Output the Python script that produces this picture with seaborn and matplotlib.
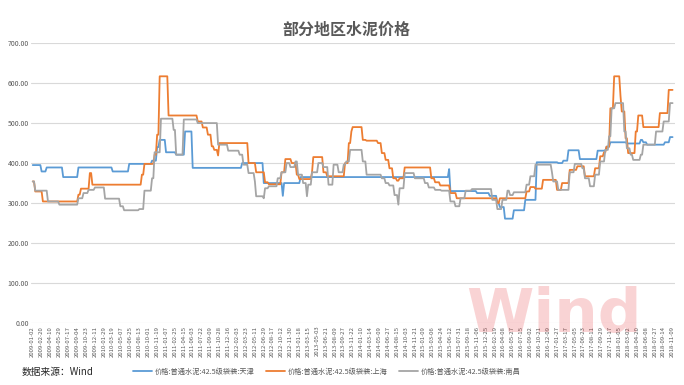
import numpy as np
import pandas as pd
import seaborn as sns
import matplotlib
matplotlib.use("Agg")
import matplotlib.pyplot as plt

# weekly observations, stored as step changes: week index where a new level starts
N_WEEKS = 505

tj_start = [0, 7, 11, 24, 36, 63, 76, 94, 98, 100, 105, 113, 120, 126, 165, 182, 197, 198, 211, 328,
            329, 350, 360, 366, 368, 372, 379, 388, 397, 414, 418, 422, 431, 445, 452, 455, 468, 479, 481, 484,
            498, 502]
tj_price = [395, 379, 389, 365, 389, 379, 398, 406, 440, 458, 427, 421, 479, 388, 400, 350, 318, 350, 365, 385,
            330, 325, 318, 300, 290, 261, 282, 308, 402, 400, 406, 432, 410, 431, 441, 452, 449, 458, 452, 446,
            452, 465]

sh_start = [0, 2, 8, 36, 38, 45, 47, 86, 88, 96, 98, 100, 107, 130, 134, 138, 141, 143, 146, 147,
            170, 176, 183, 186, 196, 199, 204, 208, 210, 220, 221, 229, 232, 246, 249, 251, 252, 260, 263, 272,
            275, 278, 281, 284, 287, 289, 293, 314, 317, 321, 329, 334, 366, 368, 389, 392, 396, 402, 413, 417,
            423, 429, 435, 443, 447, 450, 452, 455, 458, 463, 464, 467, 469, 475, 477, 481, 494, 501]
sh_price = [354, 329, 304, 321, 336, 375, 346, 371, 398, 421, 471, 617, 519, 504, 489, 471, 442, 433, 419, 450,
            400, 377, 352, 347, 377, 410, 400, 371, 360, 377, 415, 377, 367, 400, 450, 479, 490, 458, 456, 450,
            425, 408, 387, 362, 356, 362, 389, 362, 352, 344, 325, 312, 300, 312, 329, 340, 336, 358, 333, 350,
            383, 392, 367, 387, 417, 427, 441, 537, 617, 567, 529, 462, 425, 479, 519, 490, 525, 583]

nc_start = [0, 2, 12, 21, 36, 40, 44, 49, 57, 69, 72, 84, 88, 94, 96, 101, 111, 113, 119, 130,
            146, 154, 163, 166, 170, 175, 176, 182, 183, 186, 193, 196, 200, 203, 207, 209, 213, 216, 217, 220,
            225, 229, 233, 237, 241, 245, 247, 250, 260, 263, 275, 278, 281, 285, 288, 289, 293, 301, 309, 312,
            317, 322, 329, 333, 337, 341, 346, 362, 366, 370, 374, 376, 379, 389, 392, 396, 409, 410, 414, 423,
            427, 433, 435, 439, 443, 447, 451, 454, 456, 459, 466, 468, 471, 473, 479, 481, 491, 497, 502]
nc_price = [354, 331, 304, 296, 312, 325, 333, 339, 311, 292, 282, 285, 331, 362, 427, 511, 483, 421, 509, 500,
            446, 431, 421, 396, 375, 354, 317, 312, 337, 342, 362, 377, 400, 390, 404, 371, 350, 317, 346, 377,
            400, 390, 346, 396, 377, 396, 404, 433, 404, 371, 362, 350, 344, 320, 296, 337, 375, 362, 350, 339,
            333, 331, 304, 292, 312, 331, 335, 308, 285, 308, 331, 320, 327, 346, 367, 396, 377, 354, 333, 377,
            398, 387, 362, 342, 371, 404, 433, 467, 537, 550, 479, 437, 421, 408, 421, 446, 479, 504, 550]

tick_labels = [
    "2009-01-02", "2009-02-20", "2009-04-10", "2009-05-29", "2009-07-17", "2009-09-04", "2009-10-23", "2009-12-11",
    "2010-01-29", "2010-03-19", "2010-05-07", "2010-06-25", "2010-08-13", "2010-10-01", "2010-11-19",
    "2011-01-07", "2011-02-25", "2011-04-15", "2011-06-03", "2011-07-22", "2011-09-09", "2011-10-28", "2011-12-16",
    "2012-02-03", "2012-03-23", "2012-05-11", "2012-06-29", "2012-08-17", "2012-10-12", "2012-11-30",
    "2013-01-18", "2013-03-15", "2013-05-03", "2013-06-21", "2013-08-09", "2013-09-27", "2013-11-22",
    "2014-01-10", "2014-03-14", "2014-05-09", "2014-06-27", "2014-08-15", "2014-10-03", "2014-11-21",
    "2015-01-09", "2015-03-06", "2015-04-24", "2015-06-12", "2015-07-31", "2015-09-18", "2015-11-06", "2015-12-25",
    "2016-02-19", "2016-04-08", "2016-05-27", "2016-07-15", "2016-09-02", "2016-10-21", "2016-12-09",
    "2017-01-27", "2017-03-17", "2017-05-05", "2017-06-23", "2017-08-11", "2017-09-29", "2017-11-17",
    "2018-01-05", "2018-03-02", "2018-04-20", "2018-06-08", "2018-07-27", "2018-09-14", "2018-11-09",
]

names = ["价格:普通水泥:42.5级袋装:天津", "价格:普通水泥:42.5级袋装:上海", "价格:普通水泥:42.5级袋装:南昌"]
colors = ["#5B9BD5", "#ED7D31", "#A5A5A5"]


def weekly(starts, levels):
    lengths = np.diff(starts + [N_WEEKS])
    return np.repeat(levels, lengths)


frames = []
for name, st, lv in zip(names, [tj_start, sh_start, nc_start], [tj_price, sh_price, nc_price]):
    frames.append(pd.DataFrame({"week": np.arange(N_WEEKS), "price": weekly(st, lv), "series": name}))
df = pd.concat(frames, ignore_index=True)

sns.set_style("white")
plt.rcParams['font.family'] = ['Noto Sans CJK SC', 'DejaVu Sans']

fig = plt.figure(figsize=(6.84, 3.85), dpi=100)

# watermark sits behind the axes
fig.text(0.81, 0.18, "Wind", ha="center", va="center", fontsize=44, fontweight="bold",
         color="#e8383d", alpha=0.22, family="DejaVu Sans", zorder=0)

ax = fig.add_axes([0.046, 0.161, 0.941, 0.727])
ax.patch.set_alpha(0)

sns.lineplot(data=df, x="week", y="price", hue="series", palette=colors,
             linewidth=1.3, ax=ax, legend=False)

ax.set_ylim(0, 700)
ax.set_xlim(-1, N_WEEKS + 1)
ax.set_yticks(np.arange(0, 701, 100))
ax.set_yticklabels(["{:.2f}".format(v) for v in np.arange(0, 701, 100)], fontsize=5, color="#595959")
ax.set_xticks(np.arange(0, 7 * len(tick_labels), 7))
ax.set_xticklabels(tick_labels, rotation=90, fontsize=4.3, color="#595959")
ax.tick_params(axis="both", length=0, pad=2)
ax.yaxis.grid(True, color="#d9d9d9", linewidth=0.8)
ax.set_axisbelow(True)
for s in ax.spines.values():
    s.set_visible(False)
ax.set_xlabel("")
ax.set_ylabel("")

fig.text(0.506, 0.922, "部分地区水泥价格", ha="center", va="center", fontsize=11.5,
         fontweight="bold", color="#595959")

# legend
handles = [plt.Line2D([0], [0], color=c, linewidth=1.3) for c in colors]
fig.legend(handles, names, loc="center", bbox_to_anchor=(0.478, 0.034), ncol=3, frameon=False,
           fontsize=5.2, handlelength=2.6, handletextpad=0.4, columnspacing=1.6, labelcolor="#595959")

fig.text(0.032, 0.034, "数据来源：Wind", ha="left", va="center", fontsize=7, color="#262626")

fig.savefig("out.png", dpi=100)
